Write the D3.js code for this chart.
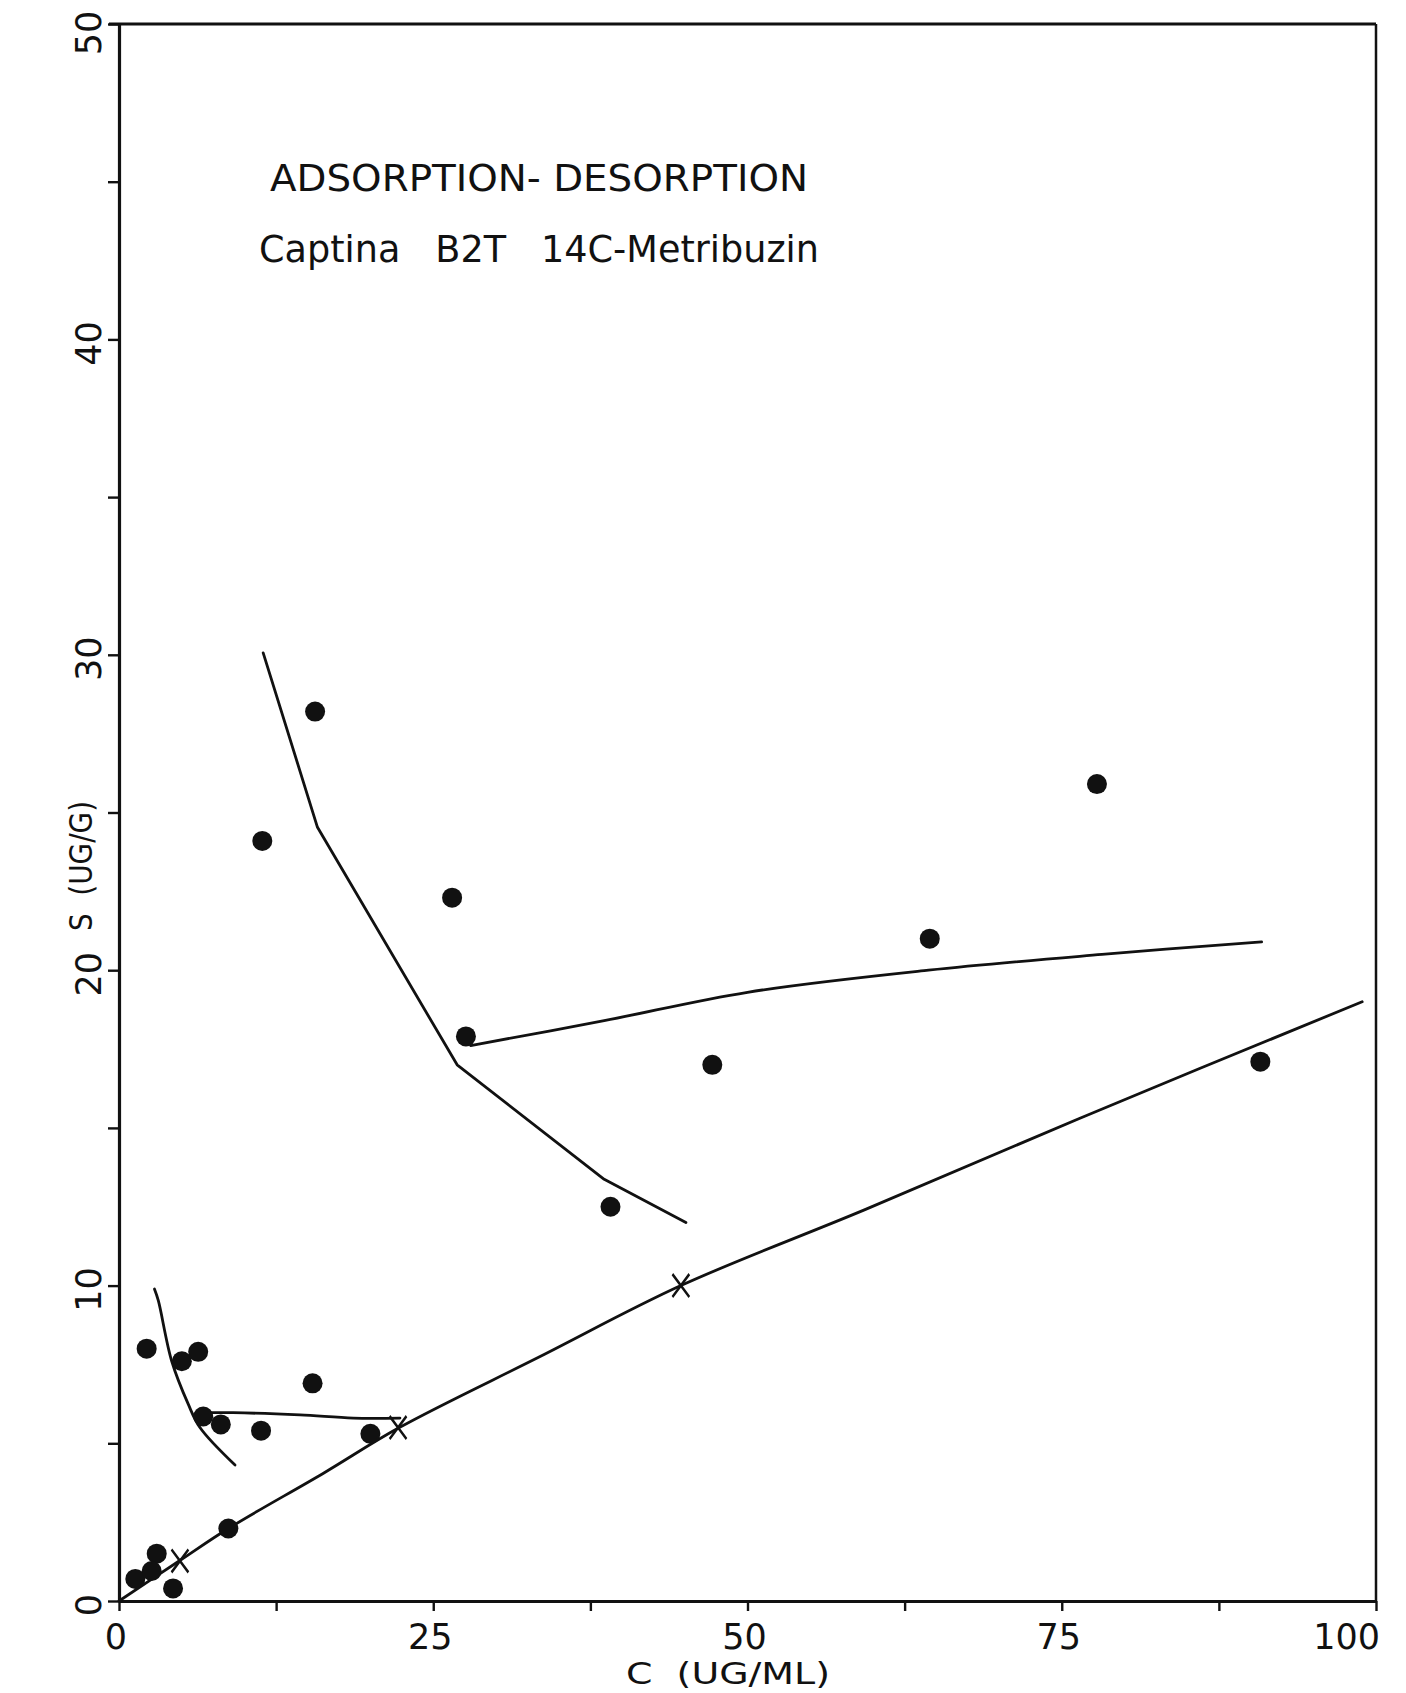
<!DOCTYPE html>
<html>
<head>
<meta charset="utf-8">
<script src="https://cdn.jsdelivr.net/npm/d3@7"></script>
<style>
  html, body { margin: 0; padding: 0; background: #fff; }
  svg { display: block; }
  text { font-family: "DejaVu Sans", sans-serif; fill: #111; }
</style>
</head>
<body>
<svg id="chart" width="1406" height="1693"></svg>
<script>
// Measured soil concentrations: C (ug/mL) against sorbed amount S (ug/g)
const pointC = [15.6, 11.4, 26.5, 27.6, 39.1, 47.2, 64.5, 77.8, 90.8,
                2.2, 5.0, 6.3, 15.4, 6.7, 8.1, 11.3, 20.0, 8.7, 3.0, 1.3, 2.6, 4.3];
const pointS = [28.2, 24.1, 22.3, 17.9, 12.5, 17.0, 21.0, 25.9, 17.1,
                8.0, 7.6, 7.9, 6.9, 5.85, 5.6, 5.4, 5.3, 2.3, 1.5, 0.7, 0.95, 0.4];

// Adsorption isotherm
const adsorptionC = [0, 4.9, 8.7, 16.3, 22.3, 33.5, 44.7, 59.3, 76.4, 98.9];
const adsorptionS = [0, 1.3, 2.3, 4.06, 5.5, 7.75, 10.0, 12.4, 15.3, 19.0];

// Desorption branches
const desorbHighC = [11.47, 15.79, 26.9, 38.6, 45.1];
const desorbHighS = [30.06, 24.53, 17.0, 13.37, 12.0];
const desorbFlatC = [27.97, 38.6, 50.0, 64.4, 78.2, 90.9];
const desorbFlatS = [17.61, 18.4, 19.3, 20.0, 20.5, 20.9];
const desorbLowC = [2.82, 3.13, 4.19, 5.51, 6.44, 9.23];
const desorbLowS = [9.89, 9.52, 7.61, 6.24, 5.5, 4.31];
const desorbMidC = [6.44, 9.09, 14.4, 18.64, 22.35];
const desorbMidS = [5.97, 5.97, 5.90, 5.80, 5.80];

// Desorption starting points on the isotherm
const crossC = [22.2, 44.7, 4.85];
const crossS = [5.5, 10.0, 1.27];

// Axis ticks and labels
const xMinorTicks = [0, 12.5, 25, 37.5, 50, 62.5, 75, 87.5, 100];
const xTickLabels = [0, 25, 50, 75, 100];
const yMinorTicks = [0, 5, 10, 15, 20, 25, 30, 35, 40, 45, 50];
const yTickLabels = [0, 10, 20, 30, 40, 50];

const titleLine1 = "ADSORPTION- DESORPTION";
const titleLine2 = "Captina\u00A0\u00A0 B2T\u00A0\u00A0 14C-Metribuzin";
const xTitle = "C\u00A0 (UG/ML)";
const yTitle = "S\u00A0 (UG/G)";

const svg = d3.select("#chart");
const x = d3.scaleLinear().domain([0, 100]).range([119, 1376]);
const y = d3.scaleLinear().domain([0, 50]).range([1601, 24]);

const ink = "#111";

// Frame: top and right borders
svg.append("line").attr("x1", x(0) - 10).attr("x2", x(100))
  .attr("y1", y(50)).attr("y2", y(50))
  .attr("stroke", ink).attr("stroke-width", 3);
svg.append("line").attr("x1", x(100)).attr("x2", x(100))
  .attr("y1", y(50)).attr("y2", y(0))
  .attr("stroke", ink).attr("stroke-width", 2.5);

// Axes
const xAxis = svg.append("g").attr("transform", `translate(0,${y(0)})`)
  .call(d3.axisBottom(x).tickValues(xMinorTicks).tickSize(10).tickSizeOuter(0).tickFormat(""));
const yAxis = svg.append("g").attr("transform", `translate(${x(0)},0)`)
  .call(d3.axisLeft(y).tickValues(yMinorTicks).tickSize(11).tickSizeOuter(0).tickFormat(""));
[xAxis, yAxis].forEach(g => {
  g.select(".domain").attr("stroke", ink).attr("stroke-width", 3.2);
  g.selectAll(".tick line").attr("stroke", ink).attr("stroke-width", 2.4);
});

// X tick labels
svg.append("g").selectAll("text").data(xTickLabels).join("text")
  .attr("x", d => d === 100 ? x(d) + 4 : x(d) - 3)
  .attr("y", 1649)
  .attr("text-anchor", d => d === 100 ? "end" : "middle")
  .attr("font-size", 35)
  .text(d => d);

// Y tick labels, rotated
svg.append("g").selectAll("text").data(yTickLabels).join("text")
  .attr("transform", d => `translate(101,${y(d) + (d === 50 ? 9 : 4)}) rotate(-90)`)
  .attr("text-anchor", "middle")
  .attr("font-size", 35)
  .text(d => d);

// Axis titles
svg.append("text").attr("x", 728).attr("y", 1684)
  .attr("text-anchor", "middle").attr("font-size", 31)
  .attr("textLength", 204).attr("lengthAdjust", "spacingAndGlyphs")
  .text(xTitle);
svg.append("text").attr("transform", "translate(92,866) rotate(-90)")
  .attr("text-anchor", "middle").attr("font-size", 32)
  .attr("textLength", 130).attr("lengthAdjust", "spacingAndGlyphs")
  .text(yTitle);

// Chart titles
svg.append("text").attr("x", 270).attr("y", 191)
  .attr("font-size", 38)
  .attr("textLength", 538).attr("lengthAdjust", "spacingAndGlyphs")
  .text(titleLine1);
svg.append("text").attr("x", 259).attr("y", 262)
  .attr("font-size", 38)
  .attr("textLength", 560).attr("lengthAdjust", "spacingAndGlyphs")
  .text(titleLine2);

// Curves
const toPts = (cs, ss) => cs.map((c, i) => [c, ss[i]]);
const lineLinear = d3.line().x(d => x(d[0])).y(d => y(d[1]));
const lineSmooth = d3.line().x(d => x(d[0])).y(d => y(d[1])).curve(d3.curveCatmullRom);

const curves = [
  { pts: toPts(adsorptionC, adsorptionS), gen: lineSmooth },
  { pts: toPts(desorbHighC, desorbHighS), gen: lineLinear },
  { pts: toPts(desorbFlatC, desorbFlatS), gen: lineSmooth },
  { pts: toPts(desorbLowC, desorbLowS), gen: lineSmooth },
  { pts: toPts(desorbMidC, desorbMidS), gen: lineSmooth }
];
svg.append("g").selectAll("path").data(curves).join("path")
  .attr("d", d => d.gen(d.pts))
  .attr("fill", "none").attr("stroke", ink).attr("stroke-width", 2.8)
  .attr("stroke-linejoin", "round").attr("stroke-linecap", "round");

// Cross markers
const cross = d3.symbol().type(d3.symbolX).size(260);
svg.append("g").selectAll("path").data(toPts(crossC, crossS)).join("path")
  .attr("transform", d => `translate(${x(d[0])},${y(d[1])}) scale(0.85,1.15)`)
  .attr("d", cross)
  .attr("fill", "none").attr("stroke", ink).attr("stroke-width", 2.6);

// Data points
svg.append("g").selectAll("circle").data(toPts(pointC, pointS)).join("circle")
  .attr("cx", d => x(d[0])).attr("cy", d => y(d[1]))
  .attr("r", 10).attr("fill", ink);
</script>
</body>
</html>
